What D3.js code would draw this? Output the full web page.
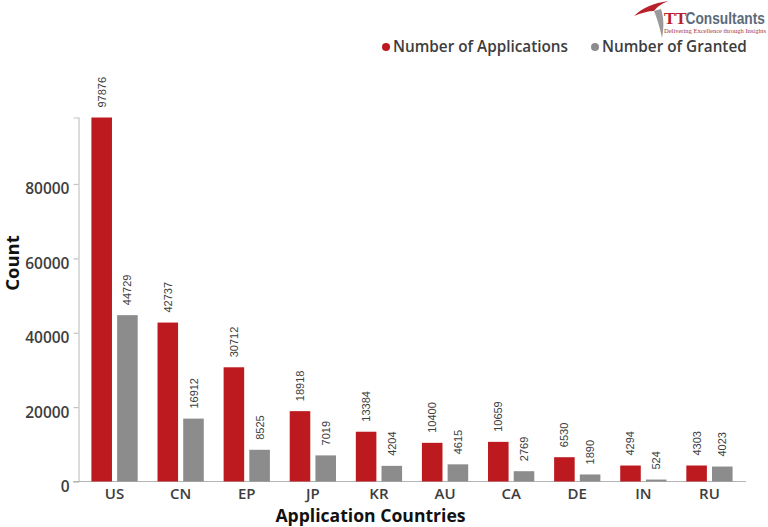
<!DOCTYPE html>
<html>
<head>
<meta charset="utf-8">
<script src="https://cdn.jsdelivr.net/npm/d3@7"></script>
<style>
  html, body { margin: 0; padding: 0; background: #fff; }
  svg { display: block; }
  text { font-family: "Open Sans", "Noto Sans", sans-serif; }
</style>
</head>
<body>
<div id="chart"></div>
<script>
const countries = ['US', 'CN', 'EP', 'JP', 'KR', 'AU', 'CA', 'DE', 'IN', 'RU']
const applications = [97876, 42737, 30712, 18918, 13384, 10400, 10659, 6530, 4294, 4303]
const granted = [44729, 16912, 8525, 7019, 4204, 4615, 2769, 1890, 524, 4023]
const yTicks = [0, 20000, 40000, 60000, 80000]
const seriesNames = ['Number of Applications', 'Number of Granted']
const seriesColors = ['#bd1a1f', '#8c8c8c']

const width = 768, height = 527
const svg = d3.select('#chart').append('svg').attr('width', width).attr('height', height)

const x0 = d3.scaleBand().domain(countries).range([81.5, 742.5]).paddingInner(0.3).paddingOuter(0.15)
const x1 = d3.scaleBand().domain(seriesNames).range([0, x0.bandwidth()]).paddingInner(0.2)
const y = d3.scaleLinear().domain([0, 97876]).range([481.5, 117.5])

// y axis, the labels sit a little under their ticks in the original
const yAxis = svg.append('g')
    .attr('transform', 'translate(78.5,0)')
    .call(d3.axisLeft(y).tickValues(yTicks).tickFormat(d3.format('d')).tickSize(5).tickPadding(4))
yAxis.selectAll('line, path').attr('stroke', '#c4c4c4').attr('stroke-width', 1.2)
yAxis.selectAll('text')
    .attr('y', 5)
    .attr('fill', '#3d3d3d').attr('font-size', 15.5).attr('font-weight', 600)
    .style('font-family', '"Open Sans", sans-serif')

// x axis
const xAxis = svg.append('g')
    .attr('transform', 'translate(0,481.5)')
    .call(d3.axisBottom(x0).tickSize(0).tickPadding(7))
xAxis.select('path').attr('d', 'M73,0H746').attr('stroke', '#b5b5b5').attr('stroke-width', 1.2)
xAxis.selectAll('text')
    .attr('fill', '#3d3d3d').attr('font-size', 15).attr('font-weight', 600)
    .style('font-family', '"Open Sans", sans-serif')

// bars and their rotated labels
const series = [applications, granted]
series.forEach(function(values, s) {
  const g = svg.append('g')
  g.selectAll('rect')
    .data(values)
    .enter().append('rect')
      .attr('x', function(d, i) { return x0(countries[i]) + x1(seriesNames[s]) })
      .attr('y', function(d) { return y(d) })
      .attr('width', x1.bandwidth())
      .attr('height', function(d) { return y(0) - y(d) })
      .attr('fill', seriesColors[s])
  g.selectAll('text')
    .data(values)
    .enter().append('text')
      .attr('transform', function(d, i) {
        const cx = x0(countries[i]) + x1(seriesNames[s]) + x1.bandwidth() / 2
        return 'translate(' + (cx + 4) + ',' + (y(d) - 10) + ') rotate(-90)'
      })
      .attr('fill', '#3d3d3d')
      .attr('font-size', 11)
      .style('font-family', '"Liberation Sans", sans-serif')
      .text(function(d) { return d })
})

// axis titles
svg.append('text')
    .attr('transform', 'translate(19,263) rotate(-90)')
    .attr('text-anchor', 'middle')
    .attr('font-size', 18.5).attr('font-weight', 700).attr('fill', '#111')
    .text('Count')
svg.append('text')
    .attr('x', 370.5).attr('y', 522)
    .attr('text-anchor', 'middle')
    .attr('font-size', 17.6).attr('font-weight', 700).attr('fill', '#111')
    .text('Application Countries')

// legend
const legendX = [386, 595]
seriesNames.forEach(function(name, i) {
  svg.append('circle').attr('cx', legendX[i]).attr('cy', 47).attr('r', 4).attr('fill', seriesColors[i])
  svg.append('text')
      .attr('x', legendX[i] + 7).attr('y', 52)
      .attr('font-size', 15.3).attr('font-weight', 600).attr('fill', '#3d3d3d')
      .text(name)
})

// logo
const logo = svg.append('g')
logo.append('path')
    .attr('d', 'M634,16 C642,8 654,3 668,1 C661,4 657,7 654,11 C648,11 641,13 634,16 Z')
    .attr('fill', '#b8202a')
logo.append('path')
    .attr('d', 'M654,11 L661,9 C664,18 664,28 662,38 C660,28 657,18 654,11 Z')
    .attr('fill', '#9a9a9a')
logo.append('text')
    .attr('x', 664).attr('y', 24)
    .attr('font-size', 17).attr('font-weight', 700).attr('fill', '#b8202a')
    .style('font-family', '"Liberation Serif", serif')
    .text('TT')
logo.append('text')
    .attr('transform', 'translate(685.5,24) scale(0.86,1)')
    .attr('font-size', 16).attr('font-weight', 700).attr('fill', '#5b6b7a')
    .style('font-family', '"Liberation Sans", sans-serif')
    .text('Consultants')
logo.append('text')
    .attr('x', 664).attr('y', 33)
    .attr('font-size', 6.5).attr('fill', '#a8323a')
    .style('font-family', '"Liberation Serif", serif')
    .text('Delivering Excellence through Insights')
</script>
</body>
</html>
